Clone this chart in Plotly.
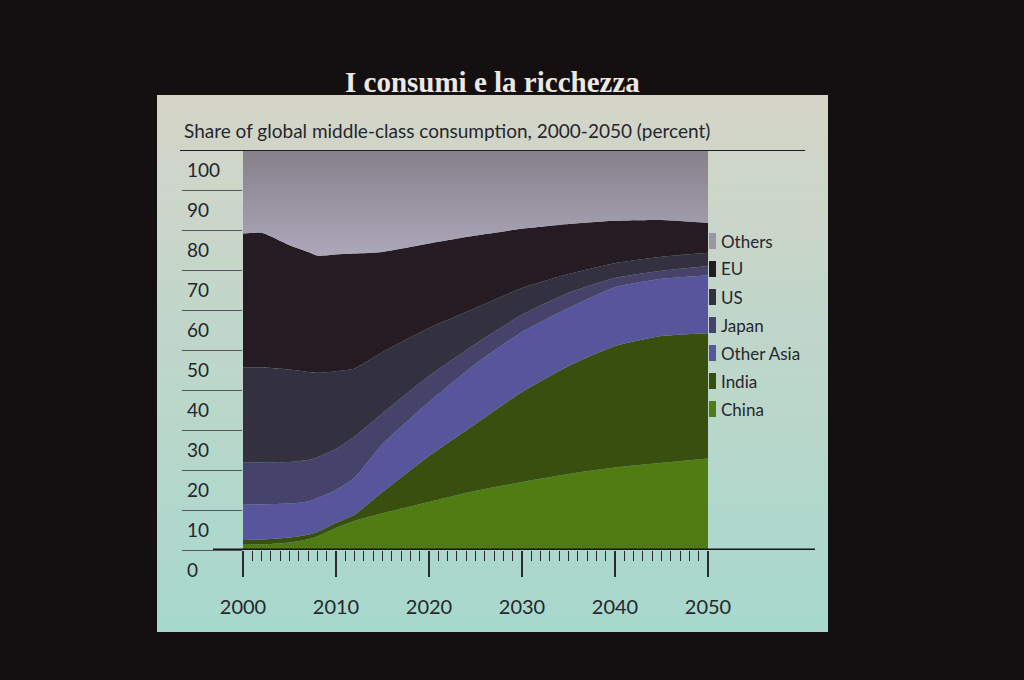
import plotly.graph_objects as go

# ---------------- data (share of global middle-class consumption, %) ----------------
years = [2000, 2002, 2005, 2007, 2008, 2010, 2012, 2015, 2020, 2025, 2030, 2035, 2040, 2045, 2050]

china      = [1.3, 1.4, 1.9, 2.7, 3.4, 5.5, 7.3, 9.2, 12.0, 14.8, 17.0, 19.0, 20.6, 21.8, 22.9]
india      = [1.2, 1.2, 1.2, 1.1, 1.1, 1.3, 1.6, 5.3, 11.5, 16.7, 22.5, 27.0, 30.4, 31.7, 31.3]
other_asia = [8.8, 8.8, 8.5, 8.3, 8.5, 8.2, 9.2, 12.0, 13.5, 15.0, 15.0, 14.5, 14.7, 14.3, 14.5]
japan      = [10.5, 10.5, 10.4, 10.4, 10.2, 10.3, 10.3, 7.7, 6.5, 5.0, 4.3, 3.8, 2.3, 2.0, 2.3]
us         = [23.8, 23.7, 23.1, 22.0, 21.1, 19.4, 17.0, 15.3, 12.0, 9.0, 6.7, 4.7, 3.7, 3.5, 3.3]
eu         = [33.5, 33.7, 31.1, 30.0, 29.3, 29.2, 28.7, 25.0, 21.1, 18.1, 14.8, 12.5, 10.6, 9.2, 7.5]
others     = [20.9, 20.7, 23.8, 25.5, 26.4, 26.1, 25.9, 25.5, 23.4, 21.4, 19.7, 18.5, 17.7, 17.5, 18.2]

series_names = ["China", "India", "Other Asia", "Japan", "US", "EU", "Others"]
series_values = [china, india, other_asia, japan, us, eu, others]

x_ticks = [2000, 2010, 2020, 2030, 2040, 2050]
y_ticks = [0, 10, 20, 30, 40, 50, 60, 70, 80, 90, 100]

title_text = "I consumi e la ricchezza"
subtitle_text = "Share of global middle-class consumption, 2000-2050 (percent)"

# ---------------- styles ----------------
colors = {
    "China": "#4f7d14",
    "India": "#394f10",
    "Other Asia": "#57559b",
    "Japan": "#45436a",
    "US": "#33313f",
    "EU": "#251b22",
    "Others": "#9a96a6",
}

W, H = 1024, 680
def px(x):
    return x / W
def py(y):
    return 1 - y / H

PLOT_L, PLOT_R, PLOT_T, PLOT_B = 243, 708, 150, 550
TEXT_COLOR = "#26262e"

fig = go.Figure()

for name, vals in zip(series_names, series_values):
    kw = {}
    if name == "Others":
        kw["fillgradient"] = dict(type="vertical",
                                  colorscale=[[0, "#aca8ba"], [1, "#858089"]])
    fig.add_trace(go.Scatter(
        x=years, y=vals, name=name, mode="lines",
        stackgroup="one",
        line=dict(width=0, shape="spline", smoothing=0.5, color=colors[name]),
        fillcolor=colors[name],
        hoverinfo="x+y+name",
        **kw,
    ))

shapes = []
# slide panel with a soft vertical gradient (overlapping bands)
top_rgb = (0xd4, 0xd5, 0xc8)
bot_rgb = (0xa7, 0xd8, 0xcc)
n_bands = 30
y0p, y1p = 95, 632
for i in range(n_bands):
    t = i / (n_bands - 1)
    c = tuple(round(top_rgb[k] + (bot_rgb[k] - top_rgb[k]) * t) for k in range(3))
    ya = y0p + (y1p - y0p) * i / n_bands
    yb = min(y1p, y0p + (y1p - y0p) * (i + 1) / n_bands + 3)
    shapes.append(dict(type="rect", xref="paper", yref="paper", layer="below",
                       x0=px(157), x1=px(828), y0=py(yb), y1=py(ya),
                       fillcolor="rgb(%d,%d,%d)" % c, line=dict(width=0)))

# title underline (at the 100 level) and thick baseline (at 0)
shapes.append(dict(type="line", xref="paper", yref="y", layer="above",
                   x0=px(180), x1=px(805), y0=100, y1=100,
                   line=dict(color="#1e1e22", width=2)))
shapes.append(dict(type="line", xref="paper", yref="y", layer="above",
                   x0=px(213), x1=px(815), y0=0, y1=0,
                   line=dict(color="#15151a", width=3)))

annotations = []
annotations.append(dict(text="<b>" + title_text + "</b>", x=px(492), y=py(82),
                        xref="paper", yref="paper", showarrow=False,
                        xanchor="center", yanchor="middle",
                        font=dict(family="Liberation Serif", size=29, color="#ece8e2")))
annotations.append(dict(text=subtitle_text, x=px(182), y=py(130),
                        xref="paper", yref="paper", showarrow=False,
                        xanchor="left", yanchor="middle",
                        font=dict(family="Lato", size=19, color=TEXT_COLOR)))

# y tick labels sitting under their tick lines
for v in y_ticks:
    annotations.append(dict(text=str(v), x=px(185), y=v, xref="paper", yref="y",
                            showarrow=False, xanchor="left", yanchor="middle",
                            yshift=-19,
                            font=dict(family="Lato", size=19, color=TEXT_COLOR)))

# legend (top to bottom: Others ... China)
leg_top = 241
leg_step = 28
for i, name in enumerate(reversed(series_names)):
    yc = leg_top + i * leg_step
    shapes.append(dict(type="rect", xref="paper", yref="paper", layer="above",
                       x0=px(709), x1=px(716), y0=py(yc + 8), y1=py(yc - 8),
                       fillcolor=colors[name], line=dict(width=0)))
    annotations.append(dict(text=name, x=px(719), y=py(yc), xref="paper", yref="paper",
                            showarrow=False, xanchor="left", yanchor="middle",
                            font=dict(family="Lato", size=17, color=TEXT_COLOR)))

fig.update_layout(
    width=W, height=H, autosize=False,
    margin=dict(l=0, r=0, t=0, b=0, pad=0),
    paper_bgcolor="#140f10",
    plot_bgcolor="rgba(0,0,0,0)",
    showlegend=False,
    shapes=shapes,
    annotations=annotations,
    xaxis=dict(
        domain=[px(PLOT_L), px(PLOT_R)], range=[2000, 2050],
        tickvals=x_ticks, ticks="outside", ticklen=26, tickwidth=1.6,
        tickcolor="#2a2a30",
        minor=dict(dtick=1, ticks="outside", ticklen=10, tickwidth=1, tickcolor="#2a2a30"),
        showgrid=False, zeroline=False, showline=False,
        tickfont=dict(family="Lato", size=20, color=TEXT_COLOR),
        ticklabelstandoff=13,
        automargin=False,
        fixedrange=True,
    ),
    yaxis=dict(
        domain=[py(PLOT_B), py(PLOT_T)], range=[0, 100],
        tickvals=y_ticks, ticks="outside", ticklen=60, tickwidth=1,
        tickcolor="#55555c",
        showticklabels=False, showgrid=False, zeroline=False, showline=False,
        automargin=False,
        fixedrange=True,
    ),
)

fig.write_html(
    "out.html",
    config={"displayModeBar": False},
    post_script="document.body.style.margin='0px';document.body.style.overflow='hidden';",
)
